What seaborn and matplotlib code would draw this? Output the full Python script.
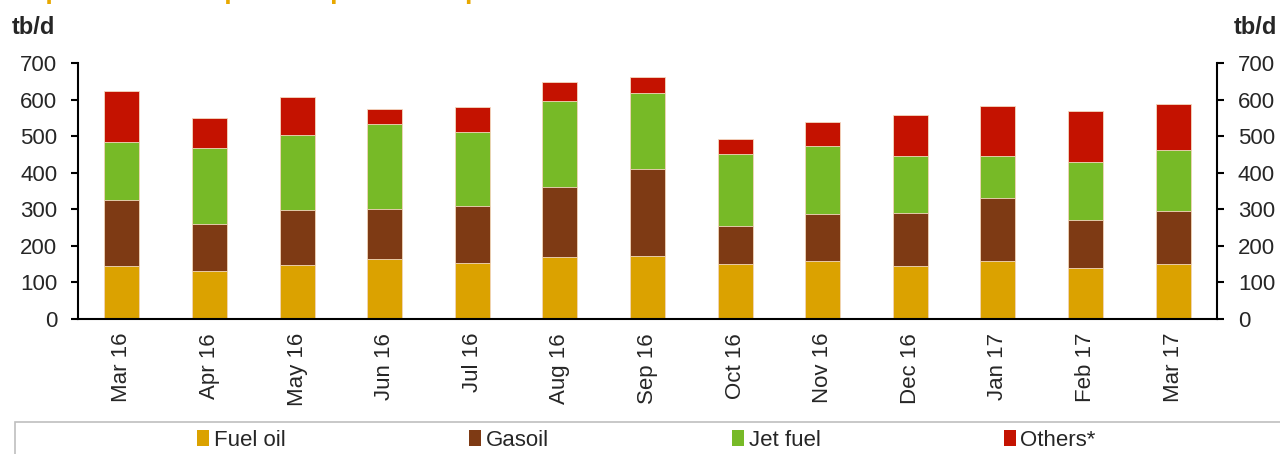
import numpy as np
import pandas as pd
import matplotlib
matplotlib.use('Agg')
import matplotlib.pyplot as plt
import seaborn as sns
from matplotlib.patches import Rectangle, Patch

# datos (tb/d)
meses = ['Mar 16', 'Apr 16', 'May 16', 'Jun 16', 'Jul 16', 'Aug 16', 'Sep 16',
         'Oct 16', 'Nov 16', 'Dec 16', 'Jan 17', 'Feb 17', 'Mar 17']
fuel_oil = [145, 130, 147, 164, 152, 170, 173, 150, 158, 145, 158, 139, 150]
gasoil = [181, 131, 150, 138, 156, 190, 236, 103, 128, 144, 173, 133, 146]
jet_fuel = [158, 206, 205, 232, 204, 237, 210, 198, 186, 158, 114, 157, 166]
others = [140, 83, 106, 41, 67, 52, 44, 42, 67, 111, 138, 140, 127]

series = ['Fuel oil', 'Gasoil', 'Jet fuel', 'Others*']
colores = ['#DBA200', '#7E3A14', '#77BA27', '#C41200']
yticks = [0, 100, 200, 300, 400, 500, 600, 700]

df = pd.DataFrame({'mes': meses, 'Fuel oil': fuel_oil, 'Gasoil': gasoil,
                   'Jet fuel': jet_fuel, 'Others*': others})
# acumulados para apilar
acum = df[series].cumsum(axis=1)
acum['mes'] = df['mes']

sns.set_style('white')
plt.rcParams['font.family'] = ['Liberation Sans', 'DejaVu Sans']

fig = plt.figure(figsize=(12.8, 4.54), dpi=100)
ax = fig.add_axes([78 / 1280, 1 - 319 / 454, 1139 / 1280, 256 / 454])

# de arriba hacia abajo para que cada capa tape la anterior
for s, c in reversed(list(zip(series, colores))):
    sns.barplot(data=acum, x='mes', y=s, color=c, width=0.4, saturation=1,
                edgecolor='#f3d9c0', linewidth=0.6, ax=ax)

ax.set_xlim(-0.5, len(meses) - 0.5)
ax.set_ylim(0, 700)
ax.set_yticks(yticks)
ax.set_xlabel('')
ax.set_ylabel('')
ax.set_xticks(range(len(meses)))
ax.set_xticklabels(meses, rotation=90, fontsize=16)
ax.set_xticks(np.arange(-0.5, len(meses), 1), minor=True)
ax.tick_params(axis='x', which='major', length=0, pad=10)
ax.tick_params(axis='x', which='minor', length=5, width=1.5, direction='out', color='black')
ax.tick_params(axis='y', length=5, width=1.5, direction='out', labelsize=16, pad=10, color='black')
for lado in ['top', 'right']:
    ax.spines[lado].set_visible(False)
for lado in ['left', 'bottom']:
    ax.spines[lado].set_linewidth(1.5)
    ax.spines[lado].set_color('black')

ax2 = ax.twinx()
ax2.set_ylim(0, 700)
ax2.set_yticks(yticks)
ax2.tick_params(axis='y', length=5, width=1.5, direction='out', labelsize=16, pad=10, color='black')
for lado in ['top', 'left', 'bottom']:
    ax2.spines[lado].set_visible(False)
ax2.spines['right'].set_linewidth(1.5)
ax2.spines['right'].set_color('black')

fig.text(12 / 1280, 1 - 27 / 454, 'tb/d', fontsize=17, fontweight='bold', va='center', ha='left')
fig.text(1277 / 1280, 1 - 27 / 454, 'tb/d', fontsize=17, fontweight='bold', va='center', ha='right')

# titulo cortado en la parte superior, como en la imagen original
fig.text(0.0, 1 + 1 / 454, 'Graph 4: Saudi exports of petroleum products', fontsize=19,
         fontweight='bold', color='#E8A800', va='baseline', ha='left')

# caja de leyenda
fig.patches.append(Rectangle((15 / 1280, -0.01), 1.0, (454 - 422) / 454 + 0.01,
                             transform=fig.transFigure, facecolor='white',
                             edgecolor='#BFBFBF', linewidth=1.2))
handles = [Patch(facecolor=c, edgecolor='none') for c in colores]
fig.legend(handles, series, loc='center left', bbox_to_anchor=(197 / 1280, 1 - 440 / 454),
           ncol=4, frameon=False, fontsize=16, handlelength=0.55, handleheight=0.7,
           handletextpad=0.2, columnspacing=8.25, borderaxespad=0, borderpad=0)

fig.savefig('out.png', dpi=100)
